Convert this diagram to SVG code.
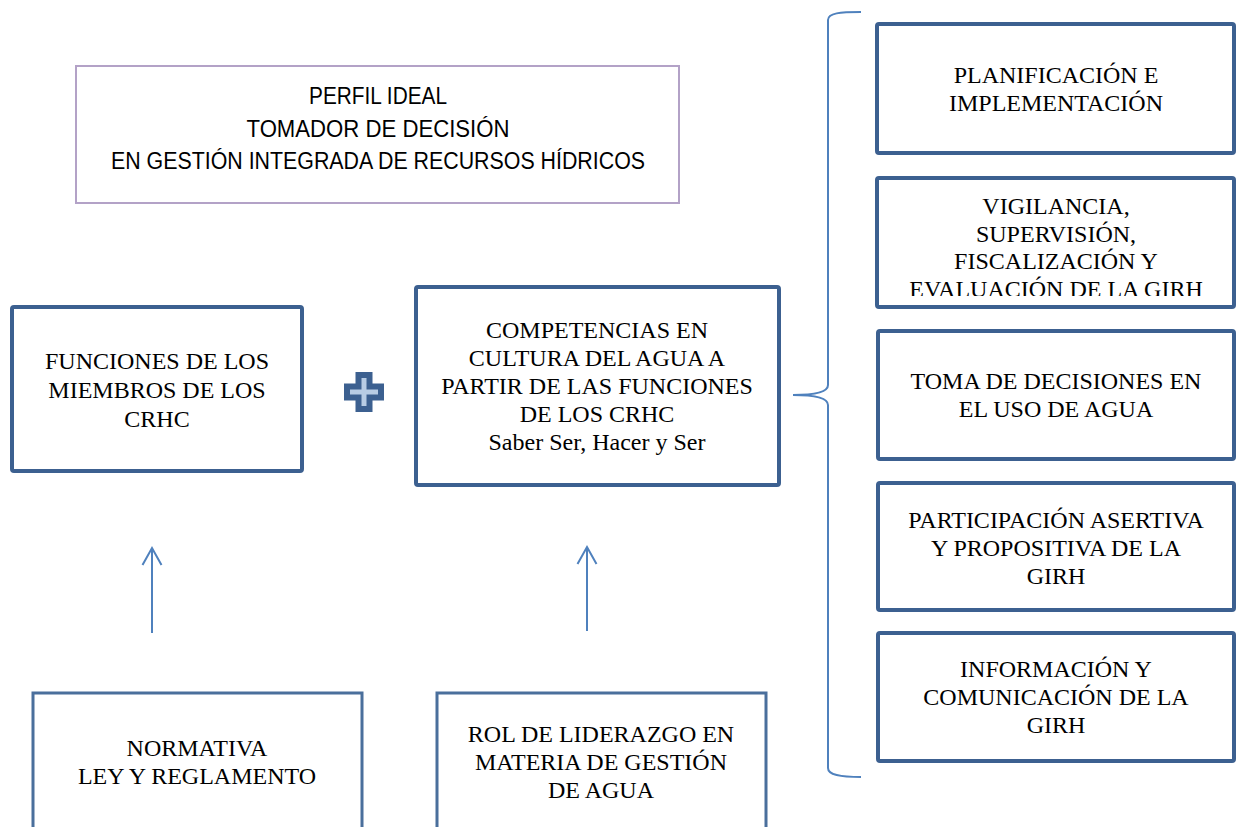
<svg xmlns="http://www.w3.org/2000/svg" width="1236" height="827" viewBox="0 0 1236 827">
<style>
.t{font-family:"Liberation Serif","Times New Roman",serif;font-size:24px;fill:#000;text-anchor:middle}
.s{font-family:"Liberation Sans",Arial,sans-serif;font-size:23px;fill:#000;text-anchor:middle}
.b{fill:#fff;stroke:#3c6090;stroke-width:4}
.bl{fill:#fff;stroke:#4a6f9c;stroke-width:3}
.c{fill:none;stroke:#4f81bd;stroke-width:2}
.ah{fill:none;stroke:#4f81bd;stroke-width:2;stroke-linejoin:miter}
</style>
<defs>
<clipPath id="cv"><rect x="877" y="177" width="358" height="119"/></clipPath>
</defs>
<rect width="1236" height="827" fill="#fff"/>
<g id="connectors">
<line class="c" x1="152" y1="633" x2="152" y2="548"/>
<path class="ah" d="M142.5,565 L152,548 L161.5,565"/>
<line class="c" x1="587" y1="631" x2="587" y2="547"/>
<path class="ah" d="M577.5,564 L587,547 L596.5,564"/>
<path class="c" d="M861,12 C840,12 828,13 828,20 L828,385 C828,392 815,395 793,395 C815,395 828,398 828,405 L828,768 C828,775 840,777 861,777"/>
</g>
<g id="title">
<rect x="76" y="66" width="603" height="137" fill="#fff" stroke="#b3a2c7" stroke-width="2"/>
<text class="s" x="378" y="104" textLength="138" lengthAdjust="spacingAndGlyphs">PERFIL IDEAL</text>
<text class="s" x="378" y="137" textLength="263" lengthAdjust="spacingAndGlyphs">TOMADOR DE DECISIÓN</text>
<text class="s" x="378" y="169" textLength="534" lengthAdjust="spacingAndGlyphs">EN GESTIÓN INTEGRADA DE RECURSOS HÍDRICOS</text>
</g>
<g id="funciones">
<rect class="b" x="12" y="307" width="290" height="164" rx="2"/>
<text class="t" x="157" y="369">FUNCIONES DE LOS</text>
<text class="t" x="157" y="398">MIEMBROS DE LOS</text>
<text class="t" x="157" y="427">CRHC</text>
</g>
<g id="plus">
<path d="M358.5,375 H369.5 V386.5 H381 V397.5 H369.5 V409 H358.5 V397.5 H347 V386.5 H358.5 Z" fill="#b8cce4" stroke="#3c6090" stroke-width="6" stroke-linejoin="miter"/>
</g>
<g id="competencias">
<rect class="b" x="416" y="287" width="363" height="198" rx="2"/>
<text class="t" x="597" y="338">COMPETENCIAS EN</text>
<text class="t" x="597" y="366">CULTURA DEL AGUA A</text>
<text class="t" x="597" y="394">PARTIR DE LAS FUNCIONES</text>
<text class="t" x="597" y="422">DE LOS CRHC</text>
<text class="t" x="597" y="450">Saber Ser, Hacer y Ser</text>
</g>
<g id="planificacion">
<rect class="b" x="877" y="24" width="357" height="129" rx="2"/>
<text class="t" x="1056" y="83">PLANIFICACIÓN E</text>
<text class="t" x="1056" y="111">IMPLEMENTACIÓN</text>
</g>
<g id="vigilancia">
<rect class="b" x="877" y="178" width="357" height="129" rx="2"/>
<g clip-path="url(#cv)">
<text class="t" x="1056" y="214">VIGILANCIA,</text>
<text class="t" x="1056" y="242">SUPERVISIÓN,</text>
<text class="t" x="1056" y="269">FISCALIZACIÓN Y</text>
<text class="t" x="1056" y="297">EVALUACIÓN DE LA GIRH</text>
</g>
</g>
<g id="toma">
<rect class="b" x="878" y="331" width="356" height="128" rx="2"/>
<text class="t" x="1056" y="389">TOMA DE DECISIONES EN</text>
<text class="t" x="1056" y="417">EL USO DE AGUA</text>
</g>
<g id="participacion">
<rect class="b" x="878" y="483" width="356" height="127" rx="2"/>
<text class="t" x="1056" y="528">PARTICIPACIÓN ASERTIVA</text>
<text class="t" x="1056" y="556">Y PROPOSITIVA DE LA</text>
<text class="t" x="1056" y="584">GIRH</text>
</g>
<g id="informacion">
<rect class="b" x="878" y="633" width="356" height="128" rx="2"/>
<text class="t" x="1056" y="677">INFORMACIÓN Y</text>
<text class="t" x="1056" y="705">COMUNICACIÓN DE LA</text>
<text class="t" x="1056" y="733">GIRH</text>
</g>
<g id="normativa">
<rect class="bl" x="33" y="693" width="329" height="140"/>
<text class="t" x="197" y="756">NORMATIVA</text>
<text class="t" x="197" y="784">LEY Y REGLAMENTO</text>
</g>
<g id="rol">
<rect class="bl" x="437" y="693" width="329" height="140"/>
<text class="t" x="601" y="742">ROL DE LIDERAZGO EN</text>
<text class="t" x="601" y="770">MATERIA DE GESTIÓN</text>
<text class="t" x="601" y="798">DE AGUA</text>
</g>
</svg>
